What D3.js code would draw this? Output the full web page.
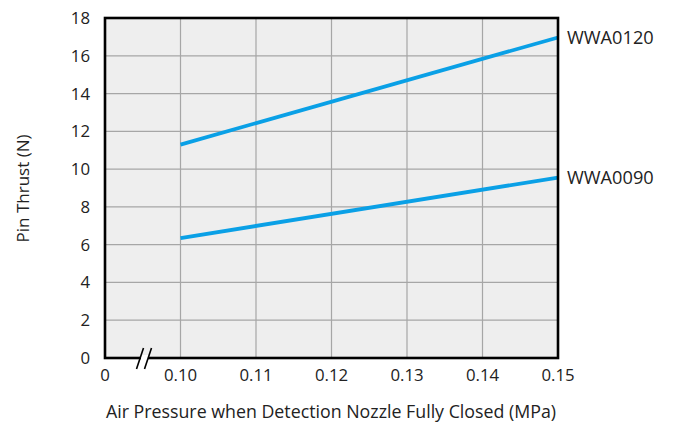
<!DOCTYPE html>
<html>
<head>
<meta charset="utf-8">
<script src="https://cdn.jsdelivr.net/npm/d3@7"></script>
<style>
  html, body { margin: 0; padding: 0; background: #fff; }
  svg text { font-family: "Open Sans", "Noto Sans", sans-serif; fill: #222; }
</style>
</head>
<body>
<svg id="chart" width="673" height="425"></svg>
<script>
// Pin thrust vs. air pressure, two nozzle models
const pressures = [0.10, 0.15];
const seriesNames = ["WWA0120", "WWA0090"];
const wwa0120 = [11.3, 16.97];
const wwa0090 = [6.35, 9.55];
const xTicks = [0.10, 0.11, 0.12, 0.13, 0.14, 0.15];
const yTicks = [0, 2, 4, 6, 8, 10, 12, 14, 16, 18];

const svg = d3.select("#chart");
const plotL = 105, plotR = 558, plotT = 18, plotB = 358;

// x axis has a break: "0" sits one step before 0.10
const x = d3.scaleLinear().domain([0.09, 0.15]).range([plotL, plotR]);
const y = d3.scaleLinear().domain([0, 18]).range([plotB, plotT]);

svg.append("rect")
  .attr("x", plotL).attr("y", plotT)
  .attr("width", plotR - plotL).attr("height", plotB - plotT)
  .attr("fill", "#eeeeee");

// grid
svg.append("g").selectAll("line").data(xTicks.slice(0, -1)).join("line")
  .attr("x1", d => x(d)).attr("x2", d => x(d))
  .attr("y1", plotT).attr("y2", plotB)
  .attr("stroke", "#a6a6a6").attr("stroke-width", 1.2);
svg.append("g").selectAll("line").data(yTicks.slice(1, -1)).join("line")
  .attr("x1", plotL).attr("x2", plotR)
  .attr("y1", d => y(d)).attr("y2", d => y(d))
  .attr("stroke", "#a6a6a6").attr("stroke-width", 1.2);

// series lines
const line = d3.line().x((d, i) => x(pressures[i])).y(d => y(d));
[wwa0120, wwa0090].forEach((vals, k) => {
  svg.append("path").datum(vals)
    .attr("d", line)
    .attr("fill", "none")
    .attr("stroke", "#0aa0e6")
    .attr("stroke-width", 3.8);
  svg.append("text")
    .attr("x", plotR + 9)
    .attr("y", y(vals[vals.length - 1]))
    .attr("dy", "0.36em")
    .attr("font-size", 18.2)
    .text(seriesNames[k]);
});

// frame
svg.append("rect")
  .attr("x", plotL).attr("y", plotT)
  .attr("width", plotR - plotL).attr("height", plotB - plotT)
  .attr("fill", "none").attr("stroke", "#000").attr("stroke-width", 2.6);

// axis break marks
const bx = 144;
svg.append("rect").attr("x", bx - 3).attr("y", plotB - 3).attr("width", 7).attr("height", 6).attr("fill", "#fff");
[-4, 4].forEach(off => {
  svg.append("line")
    .attr("x1", bx + off - 3.5).attr("y1", plotB + 11)
    .attr("x2", bx + off + 3.5).attr("y2", plotB - 10)
    .attr("stroke", "#000").attr("stroke-width", 1.6);
});

// y tick labels
svg.append("g").selectAll("text").data(yTicks).join("text")
  .attr("x", plotL - 15).attr("y", d => y(d))
  .attr("dy", "0.36em")
  .attr("text-anchor", "end")
  .attr("font-size", 16.8)
  .text(d => d);

// x tick labels
const xLabels = [{v: 0.09, t: "0"}].concat(xTicks.map(v => ({v, t: d3.format(".2f")(v)})));
svg.append("g").selectAll("text").data(xLabels).join("text")
  .attr("x", d => x(d.v)).attr("y", plotB + 23)
  .attr("text-anchor", "middle")
  .attr("font-size", 16.8)
  .text(d => d.t);

// axis titles
svg.append("text")
  .attr("x", 331).attr("y", 418)
  .attr("text-anchor", "middle")
  .attr("font-size", 17.8)
  .text("Air Pressure when Detection Nozzle Fully Closed (MPa)");
svg.append("text")
  .attr("transform", "translate(29,188.5) rotate(-90)")
  .attr("text-anchor", "middle")
  .attr("font-size", 17)
  .text("Pin Thrust (N)");
</script>
</body>
</html>
